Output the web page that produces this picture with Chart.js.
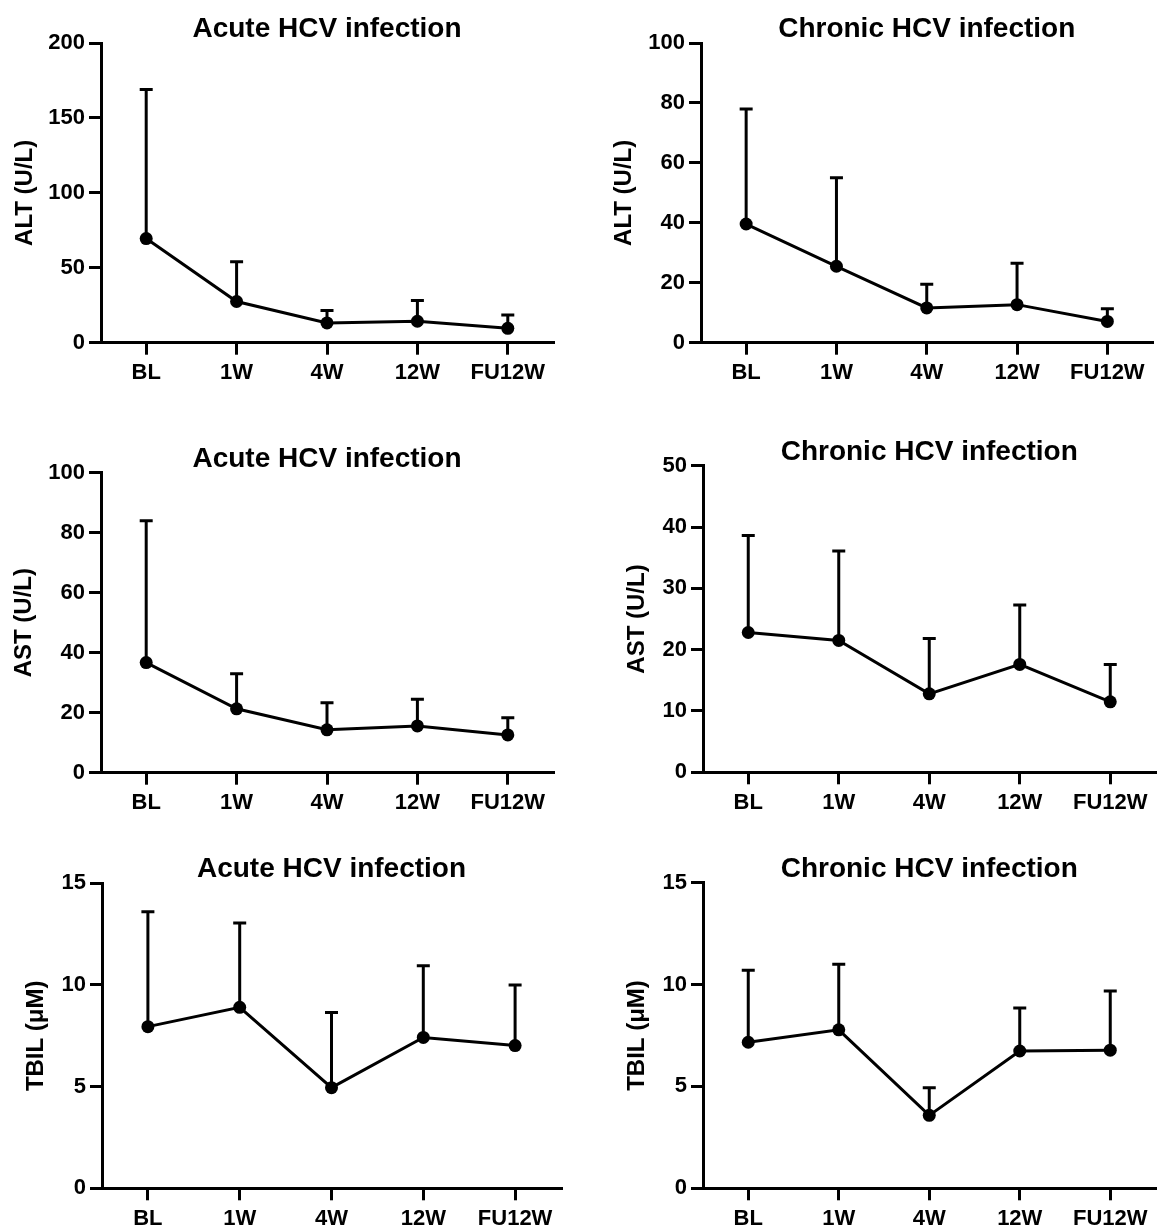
<!DOCTYPE html>
<html>
<head>
<meta charset="utf-8">
<script src="https://cdn.jsdelivr.net/npm/chart.js@4.4.1/dist/chart.umd.min.js"></script>
<style>
  html, body { margin: 0; padding: 0; background: #fff; overflow: hidden; }
  #wrap { position: relative; width: 1159px; height: 1231px; overflow: hidden; }
  canvas { position: absolute; }
</style>
</head>
<body>
<div id="wrap">
  <canvas id="altAcute"></canvas>
  <canvas id="altChronic"></canvas>
  <canvas id="astAcute"></canvas>
  <canvas id="astChronic"></canvas>
  <canvas id="tbilAcute"></canvas>
  <canvas id="tbilChronic"></canvas>
</div>
<script>
// time points on the x axis
const timepoints = ['BL', '1W', '4W', '12W', 'FU12W'];

// ALT (U/L): mean and top of the error bar (mean + SD)
const altAcuteMean = [69.5, 27.5, 13.2, 14.3, 9.6];
const altAcuteUpper = [169, 54, 21.5, 28.2, 18.5];
const altChronicMean = [39.6, 25.5, 11.6, 12.7, 7.1];
const altChronicUpper = [78, 55, 19.5, 26.5, 11.3];

// AST (U/L)
const astAcuteMean = [36.7, 21.3, 14.3, 15.6, 12.6];
const astAcuteUpper = [84, 33, 23.3, 24.5, 18.3];
const astChronicMean = [22.8, 21.5, 12.8, 17.6, 11.5];
const astChronicUpper = [38.6, 36.1, 21.8, 27.3, 17.6];

// TBIL (uM)
const tbilAcuteMean = [7.95, 8.9, 4.95, 7.42, 7.02];
const tbilAcuteUpper = [13.6, 13.05, 8.65, 10.95, 10.0];
const tbilChronicMean = [7.17, 7.78, 3.58, 6.74, 6.78];
const tbilChronicUpper = [10.7, 11.0, 4.93, 8.85, 9.68];

const FONT = "'Liberation Sans', Arial, Helvetica, sans-serif";

// error bar (upper only) behind the points
const errorBarPlugin = (upper) => ({
    id: 'errorBars',
    beforeDatasetsDraw(chart) {
        const meta = chart.getDatasetMeta(0);
        const y = chart.scales.y;
        const ctx = chart.ctx;
        ctx.save();
        ctx.strokeStyle = '#000';
        ctx.lineWidth = 3;
        upper.forEach((v, i) => {
            const pt = meta.data[i];
            const yt = y.getPixelForValue(v);
            ctx.beginPath();
            ctx.moveTo(pt.x, pt.y);
            ctx.lineTo(pt.x, yt);
            ctx.moveTo(pt.x - 6.5, yt);
            ctx.lineTo(pt.x + 6.5, yt);
            ctx.stroke();
        });
        ctx.restore();
    }
});

// panel title centred over the plot area
const titlePlugin = (text) => ({
    id: 'panelTitle',
    afterDraw(chart) {
        const a = chart.chartArea;
        const ctx = chart.ctx;
        ctx.save();
        ctx.fillStyle = '#000';
        ctx.font = 'bold 28px ' + FONT;
        ctx.textAlign = 'center';
        ctx.textBaseline = 'alphabetic';
        ctx.fillText(text, (a.left + a.right) / 2, a.top - 6);
        ctx.restore();
    }
});

const axisLine = { display: true, drawOnChartArea: false, drawTicks: true, tickLength: 12, lineWidth: 3, color: '#000', offset: false };

function makePanel(p) {
    const cv = document.getElementById(p.id);
    cv.width = p.w; cv.height = p.h;
    cv.style.left = p.x + 'px';
    cv.style.top = p.y + 'px';
    new Chart(cv, {
        type: 'line',
        data: {
            labels: timepoints,
            datasets: [{
                data: p.mean,
                borderColor: '#000', borderWidth: 3, tension: 0,
                pointRadius: 6.5, pointBackgroundColor: '#000', pointBorderColor: '#000', pointBorderWidth: 0,
                clip: false
            }]
        },
        options: {
            responsive: false, animation: false, devicePixelRatio: 1,
            layout: { padding: { left: 0, top: p.top, right: p.w - p.right, bottom: 0 } },
            plugins: { legend: { display: false }, tooltip: { enabled: false }, title: { display: false } },
            scales: {
                x: {
                    type: 'category', offset: true,
                    grid: axisLine,
                    border: { display: true, color: '#000', width: 3 },
                    ticks: { color: '#000', padding: 5, maxRotation: 0, autoSkip: false, font: { family: FONT, size: 22, weight: 'bold' } },
                    afterFit: (s) => { s.height = p.h - p.bottom; }
                },
                y: {
                    min: 0, max: p.max,
                    grid: axisLine,
                    border: { display: true, color: '#000', width: 3 },
                    ticks: { stepSize: p.step, color: '#000', padding: 4, font: { family: FONT, size: 22, weight: 'bold' } },
                    title: { display: true, text: p.yTitle, color: '#000', font: { family: FONT, size: 24, weight: 'bold' }, padding: { top: p.titlePad, bottom: 0 } },
                    afterFit: (s) => { s.width = p.left; }
                }
            }
        },
        plugins: [errorBarPlugin(p.upper), titlePlugin(p.title)]
    });
}

makePanel({ id: 'altAcute', x: 0, y: 0, w: 580, h: 400, left: 101, right: 553, top: 43, bottom: 342.7,
    max: 200, step: 50, mean: altAcuteMean, upper: altAcuteUpper, yTitle: 'ALT (U/L)', title: 'Acute HCV infection', titlePad: 11 });
makePanel({ id: 'altChronic', x: 600, y: 0, w: 559, h: 400, left: 101, right: 552.5, top: 43, bottom: 342.7,
    max: 100, step: 20, mean: altChronicMean, upper: altChronicUpper, yTitle: 'ALT (U/L)', title: 'Chronic HCV infection', titlePad: 10 });
makePanel({ id: 'astAcute', x: 0, y: 420, w: 580, h: 400, left: 101, right: 553, top: 52.7, bottom: 352.7,
    max: 100, step: 20, mean: astAcuteMean, upper: astAcuteUpper, yTitle: 'AST (U/L)', title: 'Acute HCV infection', titlePad: 10 });
makePanel({ id: 'astChronic', x: 602, y: 420, w: 560, h: 400, left: 101, right: 560, top: 45.7, bottom: 352.3,
    max: 50, step: 10, mean: astChronicMean, upper: astChronicUpper, yTitle: 'AST (U/L)', title: 'Chronic HCV infection', titlePad: 21 });
makePanel({ id: 'tbilAcute', x: 1, y: 840, w: 580, h: 391, left: 101, right: 560, top: 43.3, bottom: 348.3,
    max: 15, step: 5, mean: tbilAcuteMean, upper: tbilAcuteUpper, yTitle: 'TBIL (\u03BCM)', title: 'Acute HCV infection', titlePad: 21 });
makePanel({ id: 'tbilChronic', x: 602, y: 840, w: 560, h: 391, left: 101, right: 561, top: 42.7, bottom: 348.3,
    max: 15, step: 5, mean: tbilChronicMean, upper: tbilChronicUpper, yTitle: 'TBIL (\u03BCM)', title: 'Chronic HCV infection', titlePad: 21 });
</script>
</body>
</html>
